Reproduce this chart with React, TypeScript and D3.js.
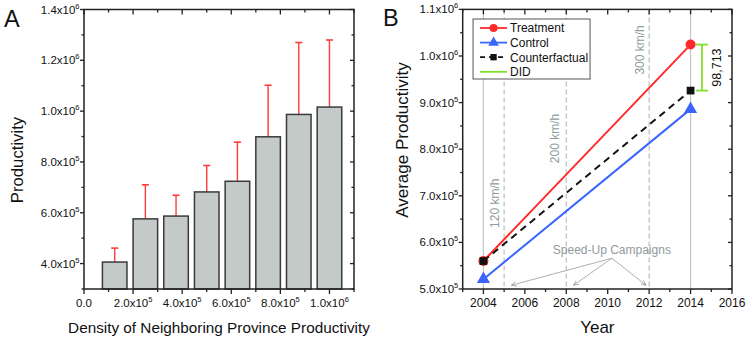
import React, { useEffect, useRef } from 'react';
import * as d3 from 'd3';

// Panel A: productivity by neighbouring density bins
const densityBins = [125000, 250000, 375000, 500000, 625000, 750000, 875000, 1000000];
const meanProductivity = [406000, 576000, 587000, 682000, 724000, 899000, 987000, 1016000];
const upperError = [461000, 710000, 669000, 786000, 878000, 1102000, 1270000, 1280000];

// Panel B: DID
const years = [2004, 2014];
const treatment = [560000, 1024500];
const control = [521000, 886000];
const counterfactual = [560000, 925787];
const didValue = '98,713';
const solidYears = [2004, 2014];
const dashedYears = [2005, 2008, 2012];
const speedLabels = ['120 km/h', '200 km/h', '300 km/h'];
const speedLabelX = [2004.55, 2007.45, 2011.55];
const speedLabelY = [684000, 823000, 1013000];
const arrowTargets = [2005.35, 2008.35, 2011.85];

const FONT = '"Liberation Sans", Arial, sans-serif';

function sciLabel(sel: any, v: number) {
  if (v === 0) {
    sel.text('0.0');
    return;
  }
  const e = Math.floor(Math.log10(v));
  const m = (v / Math.pow(10, e)).toFixed(1);
  sel.text(null);
  sel.append('tspan').text(m + 'x10');
  sel.append('tspan').attr('font-size', 7.5).attr('dy', -5).text(e);
}

function drawFrame(g: any, x: any, y: any, w: number, h: number, xMaj: number[], xMin: number[], yMaj: number[], yMin: number[]) {
  const c = '#222';
  const lw = 1.3;
  // bottom (outward) & top (inward)
  xMaj.forEach((t) => {
    g.append('line').attr('x1', x(t)).attr('x2', x(t)).attr('y1', h).attr('y2', h + 5).attr('stroke', c).attr('stroke-width', lw);
    g.append('line').attr('x1', x(t)).attr('x2', x(t)).attr('y1', 0).attr('y2', 5).attr('stroke', c).attr('stroke-width', lw);
  });
  xMin.forEach((t) => {
    g.append('line').attr('x1', x(t)).attr('x2', x(t)).attr('y1', h).attr('y2', h + 3).attr('stroke', c).attr('stroke-width', lw);
    g.append('line').attr('x1', x(t)).attr('x2', x(t)).attr('y1', 0).attr('y2', 3).attr('stroke', c).attr('stroke-width', lw);
  });
  // left (outward) & right (inward)
  yMaj.forEach((t) => {
    g.append('line').attr('x1', -4).attr('x2', 0).attr('y1', y(t)).attr('y2', y(t)).attr('stroke', c).attr('stroke-width', lw);
    g.append('line').attr('x1', w - 4).attr('x2', w).attr('y1', y(t)).attr('y2', y(t)).attr('stroke', c).attr('stroke-width', lw);
  });
  yMin.forEach((t) => {
    g.append('line').attr('x1', -2.5).attr('x2', 0).attr('y1', y(t)).attr('y2', y(t)).attr('stroke', c).attr('stroke-width', lw);
    g.append('line').attr('x1', w - 2.5).attr('x2', w).attr('y1', y(t)).attr('y2', y(t)).attr('stroke', c).attr('stroke-width', lw);
  });
  g.append('rect').attr('x', 0).attr('y', 0).attr('width', w).attr('height', h)
    .attr('fill', 'none').attr('stroke', c).attr('stroke-width', 1.5);
}

export default function App() {
  const ref = useRef<SVGSVGElement>(null);

  useEffect(() => {
    const svg = d3.select(ref.current);
    svg.selectAll('*').remove();
    svg.attr('font-family', FONT);

    // ---------- Panel A ----------
    const aL = 84, aT = 9.5, aW = 270, aH = 279.5;
    const ax = d3.scaleLinear().domain([0, 1100000]).range([0, aW]);
    const ay = d3.scaleLinear().domain([300000, 1400000]).range([aH, 0]);
    const ga = svg.append('g').attr('transform', `translate(${aL},${aT})`);
    const binW = ax(100000) - ax(0);

    // error bars
    densityBins.forEach((b, i) => {
      const cx = ax(b);
      ga.append('line').attr('x1', cx).attr('x2', cx).attr('y1', ay(meanProductivity[i])).attr('y2', ay(upperError[i]))
        .attr('stroke', '#ff3b3b').attr('stroke-width', 1.4);
      ga.append('line').attr('x1', cx - 3.5).attr('x2', cx + 3.5).attr('y1', ay(upperError[i])).attr('y2', ay(upperError[i]))
        .attr('stroke', '#ff3b3b').attr('stroke-width', 1.6);
    });
    ga.selectAll('rect.bar').data(meanProductivity).join('rect')
      .attr('class', 'bar')
      .attr('x', (d, i) => ax(densityBins[i]) - binW / 2)
      .attr('width', binW)
      .attr('y', (d) => ay(d))
      .attr('height', (d) => aH - ay(d))
      .attr('fill', '#c4cac8')
      .attr('stroke', '#3a3a3a')
      .attr('stroke-width', 1.5);

    const aXMaj = d3.range(0, 1000001, 200000);
    const aXMin = d3.range(100000, 1100001, 200000);
    const aYMaj = d3.range(400000, 1400001, 200000);
    const aYMin = d3.range(300000, 1300001, 200000);
    drawFrame(ga, ax, ay, aW, aH, aXMaj, aXMin, aYMaj, aYMin);

    aXMaj.forEach((t) => {
      ga.append('text').attr('x', ax(t)).attr('y', aH + 18).attr('text-anchor', 'middle')
        .attr('font-size', 11.5).attr('fill', '#111').call(sciLabel, t);
    });
    aYMaj.forEach((t) => {
      ga.append('text').attr('x', -4.5).attr('y', ay(t) + 4).attr('text-anchor', 'end')
        .attr('font-size', 11.5).attr('fill', '#111').call(sciLabel, t);
    });
    svg.append('text').attr('x', aL + aW / 2).attr('y', 332.5).attr('text-anchor', 'middle')
      .attr('font-size', 15.3).attr('fill', '#111').text('Density of Neighboring Province Productivity');
    svg.append('text').attr('transform', `translate(22.5,160) rotate(-90)`).attr('text-anchor', 'middle')
      .attr('font-size', 16.7).attr('fill', '#111').text('Productivity');
    svg.append('text').attr('x', 4).attr('y', 27).attr('font-size', 23.5).attr('fill', '#111').text('A');

    // ---------- Panel B ----------
    const bL = 462.7, bT = 9.4, bW = 269.3, bH = 279.6;
    const bx = d3.scaleLinear().domain([2003, 2016]).range([0, bW]);
    const by = d3.scaleLinear().domain([500000, 1100000]).range([bH, 0]);
    const gb = svg.append('g').attr('transform', `translate(${bL},${bT})`);
    const grey = '#8e9c9c';

    solidYears.forEach((yr) => {
      gb.append('line').attr('x1', bx(yr)).attr('x2', bx(yr)).attr('y1', 0).attr('y2', bH)
        .attr('stroke', '#c2c6c6').attr('stroke-width', 1.2);
    });
    dashedYears.forEach((yr) => {
      gb.append('line').attr('x1', bx(yr)).attr('x2', bx(yr)).attr('y1', 0).attr('y2', bH)
        .attr('stroke', '#bcc0c0').attr('stroke-width', 1.2).attr('stroke-dasharray', '5,3');
    });
    speedLabels.forEach((s, i) => {
      gb.append('text').attr('transform', `translate(${bx(speedLabelX[i])},${by(speedLabelY[i])}) rotate(-90)`)
        .attr('text-anchor', 'middle').attr('dominant-baseline', 'central')
        .attr('font-size', 12).attr('fill', grey).text(s);
    });
    gb.append('text').attr('x', bx(2010.2)).attr('y', by(576000)).attr('text-anchor', 'middle')
      .attr('font-size', 12).attr('fill', grey).text('Speed-Up Campaigns');

    svg.append('defs').append('marker').attr('id', 'arr').attr('viewBox', '0 0 10 10')
      .attr('refX', 9).attr('refY', 5).attr('markerWidth', 7).attr('markerHeight', 7).attr('orient', 'auto')
      .append('path').attr('d', 'M0,1 L9,5 L0,9').attr('fill', 'none').attr('stroke', '#8a8a8a').attr('stroke-width', 1.2);
    arrowTargets.forEach((t) => {
      gb.append('line').attr('x1', bx(2010.2)).attr('y1', by(566000)).attr('x2', bx(t)).attr('y2', by(508000))
        .attr('stroke', '#9a9a9a').attr('stroke-width', 0.8).attr('marker-end', 'url(#arr)');
    });

    const line = d3.line<number>().x((d, i) => bx(years[i])).y((d) => by(d));
    gb.append('path').datum(control).attr('d', line).attr('fill', 'none').attr('stroke', '#3a66ff').attr('stroke-width', 2);
    gb.append('path').datum(treatment).attr('d', line).attr('fill', 'none').attr('stroke', '#ff2a2a').attr('stroke-width', 2);
    gb.append('path').datum(counterfactual).attr('d', line).attr('fill', 'none').attr('stroke', '#111')
      .attr('stroke-width', 2).attr('stroke-dasharray', '7,5');

    const tri = d3.symbol().type(d3.symbolTriangle).size(75);
    const sq = d3.symbol().type(d3.symbolSquare).size(60);
    control.forEach((v, i) => {
      gb.append('path').attr('d', tri).attr('transform', `translate(${bx(years[i])},${by(v)})`).attr('fill', '#3a66ff');
    });
    treatment.forEach((v, i) => {
      gb.append('circle').attr('cx', bx(years[i])).attr('cy', by(v)).attr('r', 5).attr('fill', '#ff2a2a');
    });
    counterfactual.forEach((v, i) => {
      gb.append('path').attr('d', sq).attr('transform', `translate(${bx(years[i])},${by(v)})`).attr('fill', '#111');
    });

    // DID bracket
    const dx = bx(2014.55);
    const green = '#7ee02a';
    [treatment[1], counterfactual[1]].forEach((v) => {
      gb.append('line').attr('x1', dx - 6).attr('x2', dx + 6).attr('y1', by(v)).attr('y2', by(v)).attr('stroke', green).attr('stroke-width', 1.8);
    });
    gb.append('line').attr('x1', dx).attr('x2', dx).attr('y1', by(treatment[1])).attr('y2', by(counterfactual[1]))
      .attr('stroke', green).attr('stroke-width', 1.8);
    gb.append('text').attr('transform', `translate(${bx(2015.27)},${by((treatment[1] + counterfactual[1]) / 2)}) rotate(-90)`)
      .attr('text-anchor', 'middle').attr('dominant-baseline', 'central').attr('font-size', 12.5).attr('fill', '#111').text(didValue);

    const bXMaj = d3.range(2004, 2017, 2);
    const bXMin = d3.range(2003, 2016, 2);
    const bYMaj = d3.range(500000, 1100001, 100000);
    const bYMin = d3.range(550000, 1100000, 100000);
    drawFrame(gb, bx, by, bW, bH, bXMaj, bXMin, bYMaj, bYMin);

    bXMaj.forEach((t) => {
      gb.append('text').attr('x', bx(t)).attr('y', bH + 18).attr('text-anchor', 'middle')
        .attr('font-size', 12).attr('fill', '#111').text(t);
    });
    bYMaj.forEach((t) => {
      gb.append('text').attr('x', -4.5).attr('y', by(t) + 4).attr('text-anchor', 'end')
        .attr('font-size', 11.5).attr('fill', '#111').call(sciLabel, t);
    });

    // legend
    const lg = gb.append('g').attr('transform', `translate(${bx(2003.5)},${9.6})`);
    lg.append('rect').attr('x', 0).attr('y', 0).attr('width', 117).attr('height', 60)
      .attr('fill', '#fff').attr('stroke', '#555').attr('stroke-width', 1);
    const items = [
      { name: 'Treatment', color: '#ff2a2a', dash: null, mark: 'circle' },
      { name: 'Control', color: '#3a66ff', dash: null, mark: 'tri' },
      { name: 'Counterfactual', color: '#111', dash: '5,4', mark: 'sq' },
      { name: 'DID', color: green, dash: null, mark: null },
    ];
    items.forEach((it, i) => {
      const yy = 9 + i * 14.6;
      const l = lg.append('line').attr('x1', 7).attr('x2', 34).attr('y1', yy).attr('y2', yy)
        .attr('stroke', it.color).attr('stroke-width', 1.8);
      if (it.dash) l.attr('stroke-dasharray', it.dash);
      if (it.mark === 'circle') lg.append('circle').attr('cx', 20.5).attr('cy', yy).attr('r', 4).attr('fill', it.color);
      if (it.mark === 'tri') lg.append('path').attr('d', d3.symbol().type(d3.symbolTriangle).size(50)).attr('transform', `translate(20.5,${yy})`).attr('fill', it.color);
      if (it.mark === 'sq') lg.append('path').attr('d', d3.symbol().type(d3.symbolSquare).size(40)).attr('transform', `translate(20.5,${yy})`).attr('fill', it.color);
      lg.append('text').attr('x', 37).attr('y', yy + 4.3).attr('font-size', 12).attr('fill', '#111').text(it.name);
    });

    svg.append('text').attr('x', bL + bW / 2).attr('y', 333).attr('text-anchor', 'middle')
      .attr('font-size', 17).attr('fill', '#111').text('Year');
    svg.append('text').attr('transform', `translate(408,140) rotate(-90)`).attr('text-anchor', 'middle')
      .attr('font-size', 17).attr('fill', '#111').text('Average Productivity');
    svg.append('text').attr('x', 383).attr('y', 26).attr('font-size', 23.5).attr('fill', '#111').text('B');
  }, []);

  return (
    <div style={{ position: 'absolute', left: 0, top: 0 }}>
      <svg ref={ref} width={748} height={340} style={{ display: 'block', background: '#fff' }} />
    </div>
  );
}
